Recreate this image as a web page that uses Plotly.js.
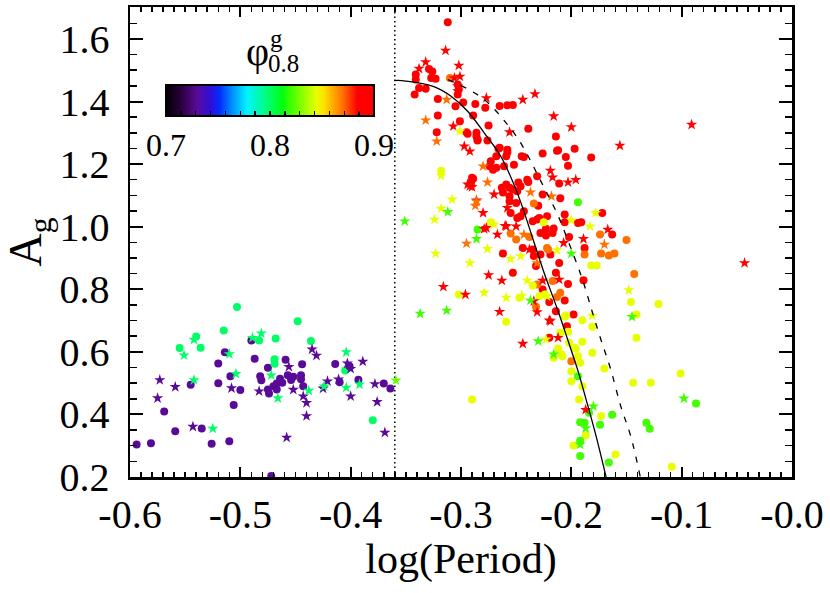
<!DOCTYPE html>
<html>
<head>
<meta charset="utf-8">
<script src="https://cdn.plot.ly/plotly-3.0.1.min.js"></script>
<style>html,body{margin:0;padding:0;background:#fff;}#chart{width:830px;height:593px;}</style>
</head>
<body>
<div id="chart"></div>
<script>
// ---------- tick labels ----------
const xTickVals = [-0.6, -0.5, -0.4, -0.3, -0.2, -0.1, 0.0];
const xTickLabels = ['-0.6', '-0.5', '-0.4', '-0.3', '-0.2', '-0.1', '-0.0'];
const yTickVals = [0.2, 0.4, 0.6, 0.8, 1.0, 1.2, 1.4, 1.6];
const yTickLabels = ['0.2', '0.4', '0.6', '0.8', '1.0', '1.2', '1.4', '1.6'];
const cbTickVals = [0.7, 0.8, 0.9];
const cbTickLabels = ['0.7', '0.8', '0.9'];

// ---------- circles ----------
const circX = [
 -0.594,-0.581,-0.569,-0.559,-0.555,-0.545,-0.540,-0.536,-0.535,-0.526,-0.520,-0.520,-0.515,-0.514,-0.510,-0.509,-0.506,-0.503,-0.500,-0.490,
 -0.487,-0.483,-0.482,-0.481,-0.475,-0.475,-0.474,-0.472,-0.470,-0.469,-0.469,-0.468,-0.467,-0.467,-0.464,-0.462,-0.459,-0.457,-0.454,-0.452,
 -0.448,-0.445,-0.445,-0.444,-0.443,-0.436,-0.414,-0.410,-0.405,-0.401,-0.393,-0.380,-0.370,-0.364,
 -0.312,-0.341,-0.341,-0.329,-0.326,-0.327,-0.323,-0.338,-0.332,-0.342,-0.321,-0.303,-0.302,-0.303,-0.305,-0.298,-0.287,-0.278,-0.265,-0.258,
 -0.253,-0.321,-0.301,-0.289,-0.275,-0.322,-0.295,-0.286,-0.239,-0.214,-0.213,-0.205,-0.197,-0.182,-0.226,-0.203,-0.211,-0.172,-0.163,-0.191,
 -0.294,-0.285,-0.276,-0.266,-0.274,-0.268,-0.258,-0.261,-0.252,-0.243,-0.248,-0.256,-0.239,-0.231,-0.226,-0.210,-0.262,-0.250,-0.243,-0.255,
 -0.249,-0.231,-0.222,-0.216,-0.206,-0.206,-0.290,-0.286,-0.285,-0.273,-0.271,-0.268,-0.265,-0.259,-0.258,-0.245,-0.289,-0.291,-0.263,-0.259,
 -0.256,-0.253,-0.249,-0.246,-0.256,-0.246,-0.240,-0.212,-0.262,-0.253,-0.244,-0.235,-0.234,-0.228,-0.232,-0.223,-0.217,-0.211,-0.202,-0.188,
 -0.189,-0.206,-0.214,-0.220,-0.198,-0.204,-0.214,-0.203,-0.226,-0.220,-0.229,-0.223,-0.230,-0.235,-0.228,-0.219,-0.194,
 -0.310,-0.234,-0.150,-0.255,-0.250,-0.238,-0.222,-0.188,-0.174,-0.173,-0.166,-0.161,-0.143,-0.232,-0.213,-0.210,-0.217,-0.231,-0.200,-0.221,
 -0.318,-0.225,-0.273,-0.302,-0.182,-0.177,-0.146,-0.121,-0.141,-0.141,-0.190,-0.181,-0.190,-0.181,-0.170,-0.144,-0.128,-0.101,-0.290,-0.259,
 -0.216,-0.212,-0.209,-0.210,-0.206,-0.203,-0.229,-0.247,-0.235,-0.200,-0.194,-0.197,-0.192,-0.200,-0.190,-0.193,-0.173,-0.187,-0.198,-0.160,
 -0.109,-0.205,-0.202,-0.196,-0.208,-0.224,
 -0.194,-0.285,-0.194,-0.184,-0.163,-0.192,-0.188,-0.174,-0.192,-0.192,-0.166,-0.132,-0.129,-0.087
];
const circY = [
 0.304,0.308,0.409,0.346,0.612,0.495,0.649,0.613,0.355,0.306,0.563,0.500,0.668,0.599,0.314,0.522,0.430,0.743,0.478,0.636,
 0.578,0.636,0.522,0.509,0.549,0.480,0.467,0.203,0.490,0.576,0.562,0.643,0.480,0.499,0.514,0.501,0.575,0.525,0.510,0.520,
 0.698,0.525,0.512,0.560,0.490,0.635,0.561,0.503,0.540,0.554,0.511,0.381,0.499,0.483,
 1.653,1.486,1.470,1.504,1.496,1.475,1.473,1.443,1.441,1.422,1.408,1.454,1.438,1.422,1.385,1.397,1.392,1.380,1.386,1.388,
 1.389,1.355,1.337,1.355,1.323,1.302,1.302,1.300,1.313,1.288,1.243,1.223,1.249,1.221,1.234,1.195,1.138,1.044,0.975,1.014,
 1.297,1.275,1.275,1.249,1.193,1.188,1.237,1.193,1.198,1.223,1.141,1.124,1.143,1.161,1.103,1.091,1.109,1.076,1.049,1.044,
 1.028,1.023,1.033,0.994,1.039,1.014,1.156,1.289,1.278,1.209,1.182,1.225,1.252,1.225,1.246,1.225,1.153,1.140,1.124,1.135,
 1.097,1.119,1.113,1.129,1.081,1.033,1.150,1.244,0.914,0.853,0.932,0.927,0.906,0.911,0.874,0.972,0.980,0.884,0.967,0.932,
 0.829,0.764,0.730,0.759,0.719,0.682,0.853,0.817,0.799,0.645,1.028,0.993,1.067,1.017,0.980,0.911,1.012,
 1.475,1.074,0.957,0.978,0.959,0.967,0.932,0.911,0.975,0.914,0.908,0.914,0.849,0.744,0.775,0.789,0.826,0.815,0.570,0.927,
 1.179,1.014,1.014,0.783,0.876,0.876,0.759,0.753,0.719,0.645,0.701,0.680,0.632,0.597,0.547,0.501,0.501,0.531,0.448,0.696,
 0.581,0.611,0.592,0.661,0.712,0.664,0.778,0.773,0.812,0.538,0.586,0.613,0.565,0.506,0.490,0.448,0.395,0.333,0.301,0.272,
 0.233,0.716,0.629,0.610,0.586,0.783,
 1.078,0.991,0.522,0.405,0.399,0.375,0.373,0.367,0.316,0.267,0.246,0.373,0.354,0.435
];
const circPhi = [
 0.73,0.73,0.73,0.73,0.80,0.73,0.80,0.80,0.73,0.73,0.73,0.73,0.80,0.73,0.73,0.73,0.73,0.80,0.73,0.73,
 0.73,0.80,0.73,0.73,0.73,0.73,0.73,0.73,0.73,0.80,0.80,0.80,0.73,0.73,0.73,0.73,0.73,0.73,0.73,0.73,
 0.80,0.73,0.73,0.73,0.73,0.80,0.73,0.73,0.80,0.73,0.73,0.80,0.73,0.73,
 0.90,0.90,0.90,0.90,0.90,0.90,0.90,0.90,0.90,0.90,0.90,0.90,0.90,0.90,0.90,0.90,0.90,0.90,0.90,0.90,
 0.90,0.90,0.90,0.90,0.90,0.90,0.90,0.90,0.90,0.90,0.90,0.90,0.90,0.90,0.90,0.90,0.90,0.90,0.90,0.90,
 0.90,0.90,0.90,0.90,0.90,0.90,0.90,0.90,0.90,0.90,0.90,0.90,0.90,0.90,0.90,0.90,0.90,0.90,0.90,0.90,
 0.90,0.90,0.90,0.90,0.90,0.90,0.90,0.90,0.90,0.90,0.90,0.90,0.90,0.90,0.90,0.90,0.90,0.90,0.90,0.90,
 0.90,0.90,0.90,0.90,0.90,0.90,0.90,0.90,0.90,0.90,0.90,0.90,0.90,0.90,0.90,0.90,0.90,0.90,0.90,0.90,
 0.90,0.90,0.90,0.90,0.90,0.90,0.90,0.90,0.90,0.90,0.90,0.90,0.90,0.90,0.90,0.90,0.90,
 0.87,0.87,0.87,0.87,0.87,0.87,0.87,0.87,0.87,0.87,0.87,0.87,0.87,0.87,0.87,0.87,0.87,0.87,0.87,0.87,
 0.845,0.845,0.845,0.845,0.845,0.845,0.845,0.845,0.845,0.845,0.845,0.845,0.845,0.845,0.845,0.845,0.845,0.845,0.845,0.845,
 0.845,0.845,0.845,0.845,0.845,0.845,0.845,0.845,0.845,0.845,0.845,0.845,0.845,0.845,0.845,0.845,0.845,0.845,0.845,0.845,
 0.845,0.845,0.845,0.845,0.845,0.845,
 0.82,0.82,0.82,0.82,0.82,0.82,0.82,0.82,0.82,0.82,0.82,0.82,0.82,0.82
];

// ---------- stars ----------
const starX = [
 -0.573,-0.575,-0.559,-0.551,-0.542,-0.542,-0.543,-0.525,-0.510,-0.508,-0.504,-0.489,-0.481,-0.483,-0.472,-0.466,-0.458,-0.456,-0.452,-0.443,
 -0.440,-0.440,-0.438,-0.435,-0.431,-0.425,-0.421,-0.411,-0.404,-0.404,-0.403,-0.400,-0.400,-0.392,-0.389,-0.378,-0.376,-0.369,-0.359,-0.424,
 -0.314,-0.332,-0.338,-0.302,-0.301,-0.306,-0.303,-0.303,-0.277,-0.244,-0.307,-0.256,-0.233,-0.216,-0.200,-0.156,-0.091,-0.219,-0.217,-0.203,
 -0.196,-0.167,-0.270,-0.292,-0.280,-0.297,-0.292,-0.258,-0.250,-0.267,-0.259,-0.279,-0.316,-0.296,-0.275,-0.263,-0.207,-0.189,-0.043,-0.265,
 -0.244,-0.212,-0.220,-0.231,-0.234,-0.226,-0.238,-0.211,-0.294,-0.290,-0.286,-0.277,-0.260,-0.187,-0.219,
 -0.313,-0.332,-0.322,-0.280,-0.276,-0.286,-0.237,-0.218,-0.295,-0.231,-0.170,-0.287,-0.243,
 -0.301,-0.318,-0.308,-0.318,-0.324,-0.178,-0.183,-0.200,-0.323,-0.276,-0.292,-0.279,-0.255,-0.246,-0.213,-0.148,-0.181,-0.223,-0.240,-0.245,
 -0.222,-0.270,-0.259,
 -0.312,-0.351,-0.286,-0.200,-0.145,-0.098,-0.337,-0.313,-0.230,-0.216,-0.237,-0.180,-0.187,-0.192
];
const starY = [
 0.510,0.452,0.488,0.589,0.510,0.639,0.361,0.355,0.593,0.484,0.530,0.645,0.659,0.474,0.525,0.452,0.326,0.552,0.479,0.458,
 0.437,0.395,0.476,0.608,0.588,0.483,0.506,0.512,0.599,0.486,0.563,0.546,0.458,0.496,0.569,0.497,0.440,0.342,0.509,0.490,
 1.563,1.526,1.505,1.515,1.480,1.475,1.449,1.433,1.411,1.406,1.321,1.302,1.424,1.353,1.318,1.259,1.326,1.179,1.158,1.142,
 1.150,0.991,1.103,1.129,1.044,1.257,1.241,1.060,1.001,0.975,1.001,0.993,0.808,0.783,0.845,0.828,0.948,0.961,0.884,0.728,
 0.626,0.645,0.701,0.727,0.762,0.828,0.927,0.831,1.135,1.127,1.084,0.996,1.003,0.415,0.698,
 1.406,1.340,1.273,1.193,1.142,1.081,1.110,1.097,0.946,0.884,0.943,1.067,0.975,
 1.305,1.163,1.087,1.058,1.023,1.044,1.001,1.021,0.914,0.929,0.884,0.789,0.897,0.906,0.925,0.797,0.716,0.640,0.828,0.780,
 0.778,1.007,0.773,
 1.047,1.017,0.961,0.914,0.712,0.451,0.722,0.732,0.634,0.592,0.764,0.426,0.356,0.304
];
const starPhi = [
 0.73,0.73,0.73,0.80,0.80,0.80,0.73,0.80,0.80,0.73,0.80,0.80,0.80,0.73,0.80,0.80,0.73,0.73,0.73,0.73,
 0.73,0.73,0.80,0.73,0.73,0.73,0.73,0.73,0.80,0.80,0.73,0.73,0.73,0.80,0.73,0.73,0.73,0.73,0.825,0.80,
 0.90,0.90,0.90,0.90,0.90,0.90,0.90,0.90,0.90,0.90,0.90,0.90,0.90,0.90,0.90,0.90,0.90,0.90,0.90,0.90,
 0.90,0.90,0.90,0.90,0.90,0.90,0.90,0.90,0.90,0.90,0.90,0.90,0.90,0.90,0.90,0.90,0.90,0.90,0.90,0.90,
 0.90,0.90,0.90,0.90,0.90,0.90,0.90,0.90,0.90,0.90,0.90,0.90,0.90,0.90,0.90,
 0.87,0.87,0.87,0.87,0.87,0.87,0.87,0.87,0.87,0.87,0.87,0.87,0.87,
 0.845,0.845,0.845,0.845,0.845,0.845,0.845,0.845,0.845,0.845,0.845,0.845,0.845,0.845,0.845,0.845,0.845,0.845,0.845,0.845,
 0.845,0.845,0.845,
 0.82,0.82,0.82,0.82,0.82,0.82,0.82,0.82,0.82,0.82,0.82,0.82,0.82,0.82
];

// ---------- curves ----------
const solidX = [-0.3605,-0.354,-0.341,-0.324,-0.309,-0.294,-0.279,-0.264,-0.249,-0.234,-0.2247,-0.2125,-0.2034,-0.1944,-0.1860,-0.1775,-0.1685];
const solidY = [1.467,1.467,1.461,1.447,1.417,1.369,1.300,1.225,1.108,0.952,0.853,0.735,0.640,0.544,0.440,0.330,0.200];
const dashX = [-0.312,-0.2939,-0.2789,-0.2668,-0.2572,-0.2481,-0.2391,-0.2306,-0.2215,-0.2125,-0.2034,-0.1899,-0.1808,-0.1733,-0.1643,-0.1552,-0.1462,-0.1375];
const dashY = [1.470,1.440,1.406,1.364,1.323,1.280,1.225,1.166,1.103,1.039,0.959,0.831,0.725,0.640,0.544,0.426,0.331,0.200];
const dividerX = -0.36;

const xRange = [-0.6, 0.0];
const yRange = [0.2, 1.702];

// minor tick positions (styling)
const xMinor = [];
for (let i = -60; i <= 0; i++) if (i % 10 !== 0) xMinor.push(i / 100);
const yMinor = [];
for (let i = 4; i <= 34; i++) if (i % 4 !== 0) yMinor.push(i * 0.05);
const cbTicks = [], cbText = [];
for (let i = 0; i <= 14; i++) {
  const v = 0.7 + i * 0.2 / 14;
  cbTicks.push(v);
  const k = cbTickVals.findIndex(t => Math.abs(t - v) < 1e-6);
  cbText.push(k >= 0 ? cbTickLabels[k] : '');
}

const FONT = '"Liberation Serif", "Times New Roman", Times, serif';

const colorscale = [
 [0.00,'#000000'],[0.07,'#28003c'],[0.15,'#5a0a98'],[0.22,'#2a10e0'],[0.26,'#0030ff'],
 [0.32,'#0090ff'],[0.39,'#00f4ff'],[0.50,'#00ff66'],[0.56,'#00ff10'],[0.60,'#40ff00'],
 [0.725,'#e8ff00'],[0.76,'#ffe000'],[0.85,'#ff7000'],[0.92,'#ff0000'],[1.00,'#ff0000']
];

const traces = [
  {x: [dividerX, dividerX], y: yRange, mode: 'lines', line: {color: 'black', width: 1.5, dash: '1.5px,3px'}, hoverinfo: 'skip'},
  {x: circX, y: circY, mode: 'markers', cliponaxis: false,
   marker: {symbol: 'circle', size: 8, color: circPhi, coloraxis: 'coloraxis', line: {width: 0}}},
  {x: starX, y: starY, mode: 'markers', cliponaxis: false,
   marker: {symbol: 'star', size: 8.5, color: starPhi, coloraxis: 'coloraxis', line: {width: 0}}},
  {x: solidX, y: solidY, mode: 'lines', line: {color: 'black', width: 1.3, shape: 'spline'}},
  {x: dashX, y: dashY, mode: 'lines', line: {color: 'black', width: 1.3, dash: '6px,8px', shape: 'spline'}}
];

const axisCommon = {
  showgrid: false, zeroline: false, showline: true, linecolor: 'black', linewidth: 2.5,
  mirror: 'allticks', ticks: 'inside', tickcolor: 'black', tickwidth: 2,
  tickmode: 'array', tickfont: {family: FONT, size: 40, color: 'black'}
};

const layout = {
  width: 830, height: 593,
  margin: {l: 130, r: 38, t: 7, b: 116},
  paper_bgcolor: 'white', plot_bgcolor: 'white',
  showlegend: false,
  font: {family: FONT, color: 'black'},
  xaxis: Object.assign({}, axisCommon, {
    range: xRange, tickvals: xTickVals, ticktext: xTickLabels, ticklen: 10,
    ticklabelstandoff: 0,
    minor: {tickmode: 'array', tickvals: xMinor, ticks: 'inside', ticklen: 5, tickwidth: 1.5, tickcolor: 'black'},
    title: {text: 'log(Period)', font: {family: FONT, size: 42, color: 'black'}, standoff: 4}
  }),
  yaxis: Object.assign({}, axisCommon, {
    range: yRange, tickvals: yTickVals, ticktext: yTickLabels, ticklen: 13,
    ticklabelstandoff: 10,
    minor: {tickmode: 'array', tickvals: yMinor, ticks: 'inside', ticklen: 7, tickwidth: 1.5, tickcolor: 'black'},
    title: {text: 'A<sub>g</sub>', font: {family: FONT, size: 46, color: 'black'}, standoff: 14}
  }),
  coloraxis: {
    cmin: 0.7, cmax: 0.9, colorscale: colorscale,
    colorbar: {
      orientation: 'h', x: 0.0544, xanchor: 'left', y: 0.8348, yanchor: 'top',
      len: 208, lenmode: 'pixels', thickness: 31, thicknessmode: 'pixels',
      xpad: 0, ypad: 0, outlinewidth: 2, outlinecolor: 'black',
      ticks: 'inside', ticklen: 6, tickwidth: 1.5, tickcolor: 'black',
      tickmode: 'array', tickvals: cbTicks, ticktext: cbText, tickangle: 0,
      tickfont: {family: FONT, size: 32, color: 'black'}
    }
  },
  annotations: [
    {xref: 'paper', yref: 'paper', x: 0.192, y: 0.905, text: 'φ', showarrow: false,
     xanchor: 'center', yanchor: 'middle', font: {family: FONT, size: 40, color: 'black'}},
    {xref: 'paper', yref: 'paper', x: 0.222, y: 0.934, text: 'g', showarrow: false,
     xanchor: 'center', yanchor: 'middle', font: {family: FONT, size: 25, color: 'black'}},
    {xref: 'paper', yref: 'paper', x: 0.232, y: 0.879, text: '0.8', showarrow: false,
     xanchor: 'center', yanchor: 'middle', font: {family: FONT, size: 25, color: 'black'}}
  ]
};

Plotly.newPlot('chart', traces, layout, {displayModeBar: false, staticPlot: true});
</script>
</body>
</html>
